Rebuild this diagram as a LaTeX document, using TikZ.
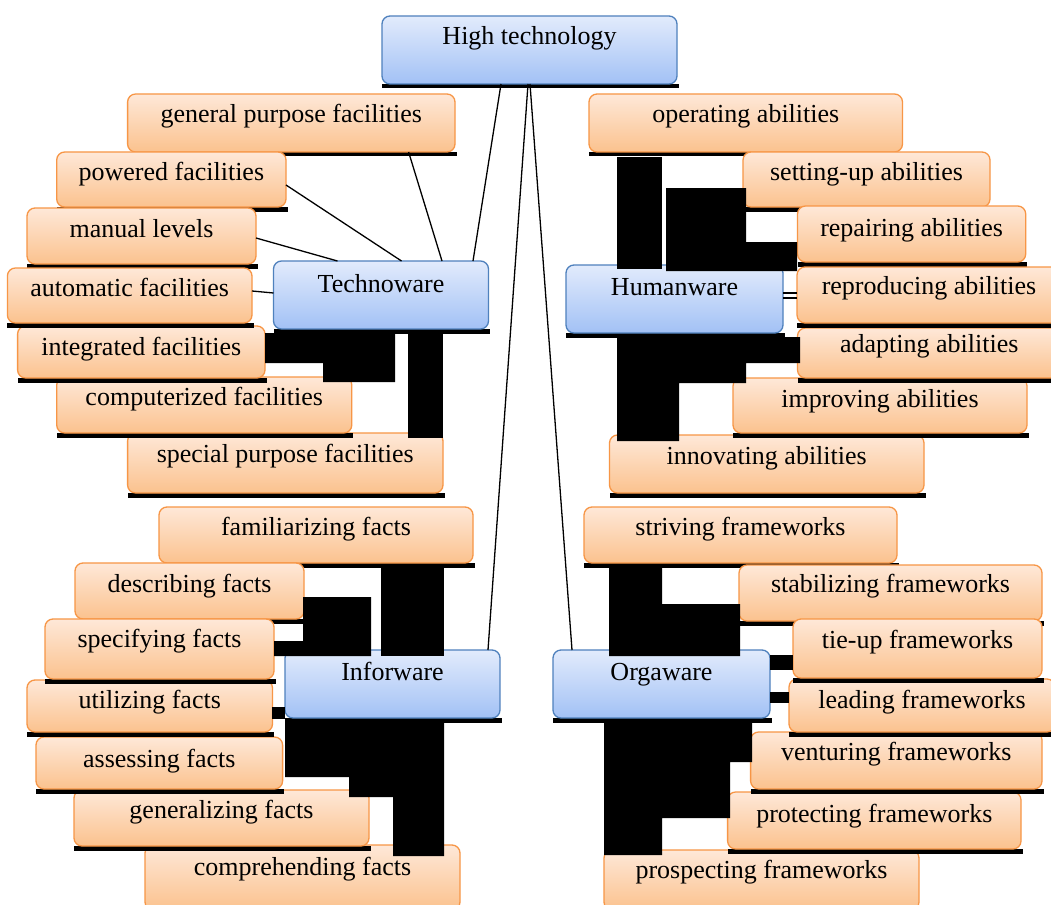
\documentclass[tikz,border=0pt]{standalone}
\usepackage{fontspec}
\setmainfont{Liberation Serif}
\usetikzlibrary{calc}
\pgfdeclarelayer{fg}
\pgfsetlayers{main,fg}
\definecolor{obord}{HTML}{F79646}
\definecolor{otop}{HTML}{FEE8D8}
\definecolor{obot}{HTML}{FBC28E}
\definecolor{bbord}{HTML}{4F81BD}
\definecolor{btop}{HTML}{E2EBFC}
\definecolor{bbot}{HTML}{A2C1F5}
\tikzset{
  boxo/.style={draw=obord, line width=1.3pt, rounded corners=8pt, top color=otop, bottom color=obot,
    font=\fontsize{26}{30}\selectfont, text height=18pt, inner sep=1pt, outer sep=0pt},
  boxb/.style={boxo, draw=bbord, top color=btop, bottom color=bbot},
  link/.style={draw=black, line width=1.3pt},
  blob/.style={fill=black},
  bar/.style={fill=black}
}
% style, name, x1, y1, x2, y2, baseline y, text
\newcommand\bx[8]{%
  \pgfmathsetmacro\myBW{#5-#3}%
  \pgfmathsetmacro\myBH{#6-#4}%
  \pgfmathsetmacro\myBD{(#6-#4)-2*(#7-#4)+18}%
  \pgfmathsetmacro\myCX{(#3+#5)/2}%
  \pgfmathsetmacro\myCY{(#4+#6)/2}%
  \fill[bar] (#3,#6) rectangle ({#5+1.5},{#6+4.5});
  \node[#1, minimum width=\myBW pt, minimum height=\myBH pt, text depth=\myBD pt] (#2) at (\myCX,\myCY) {#8};
}
\begin{document}
\begin{tikzpicture}[x=1pt,y=-1pt]
\useasboundingbox (0,0) rectangle (1051,904);
\clip (0,0) rectangle (1051,904);
\fill[white] (0,0) rectangle (1051,904);

\bx{boxb}{ht}{382}{16}{677}{84}{45}{High technology}

% Technoware group
\bx{boxo}{gpf}{127.6}{94}{455}{152}{123}{general purpose facilities}
\bx{boxo}{pwf}{56.7}{152}{286}{207}{181}{powered facilities}
\bx{boxo}{mnl}{27}{208}{256}{264}{237}{manual levels}
\bx{boxo}{spf}{127.6}{433}{443}{493}{462}{special purpose facilities}
\bx{boxo}{cpf}{56.7}{377}{351.8}{433}{405}{computerized facilities}
\bx{boxo}{itf}{17.6}{326}{265}{378}{355}{integrated facilities}
\bx{boxo}{atf}{7.4}{268}{252}{323}{296}{automatic facilities}
\bx{boxb}{tw}{273.5}{261}{488.5}{329}{292}{Technoware}

% Humanware group
\bx{boxo}{opa}{589}{94}{902.5}{152}{123}{operating abilities}
\bx{boxo}{sua}{743}{152}{990}{207}{181}{setting-up abilities}
\bx{boxo}{rpa}{797.5}{206}{1025.7}{262}{236}{repairing abilities}
\bx{boxo}{ina}{609.5}{435}{924}{493}{464}{innovating abilities}
\bx{boxo}{ima}{733}{378}{1027}{433}{407}{improving abilities}
\bx{boxo}{ada}{797.5}{328}{1061}{378}{352}{adapting abilities}
\bx{boxo}{rra}{797}{267}{1061}{323}{294}{reproducing abilities}
\bx{boxb}{hw}{566}{265}{783}{333}{295}{Humanware}

% Inforware group
\bx{boxo}{faf}{159}{507}{473}{563}{535}{familiarizing facts}
\bx{boxo}{def}{75}{563}{304}{619}{592}{describing facts}
\bx{boxo}{cof}{145}{845}{460}{910}{875}{comprehending facts}
\bx{boxo}{gef}{74}{790}{369}{846}{818}{generalizing facts}
\bx{boxo}{asf}{36}{737}{282.6}{789}{767}{assessing facts}
\bx{boxo}{utf}{27}{680}{272.5}{732}{708}{utilizing facts}
\bx{boxo}{spc}{45}{619}{274}{679}{647}{specifying facts}
\bx{boxb}{iw}{285}{650}{500}{718}{680}{Inforware}

% Orgaware group
\bx{boxo}{stf}{584}{507}{897}{563}{535}{striving frameworks}
\bx{boxo}{sbf}{739}{565}{1042}{621}{592}{stabilizing frameworks}
\bx{boxo}{psf}{604}{850}{919}{910}{878}{prospecting frameworks}
\bx{boxo}{prf}{727.6}{792}{1021}{849}{822}{protecting frameworks}
\bx{boxo}{vef}{750.6}{732}{1042}{789}{760}{venturing frameworks}
\bx{boxo}{lef}{789}{679}{1055}{732}{708}{leading frameworks}
\bx{boxo}{tuf}{793}{619}{1042}{678}{648}{tie-up frameworks}
\bx{boxb}{ow}{553}{650}{770}{718}{680}{Orgaware}

% straight connectors
\draw[link] ([xshift=119pt]ht.south west) -- ([xshift=199.5pt]tw.north west);
\draw[link] ([xshift=146pt]ht.south west) -- ([xshift=203pt]iw.north west);
\draw[link] ([xshift=148pt]ht.south west) -- ([xshift=19pt]ow.north west);
\draw[link] ([xshift=281pt]gpf.south west) -- ([xshift=168.5pt]tw.north west);
\draw[link] ([yshift=-5.5pt]pwf.east) -- ([xshift=128pt]tw.north west);
\draw[link] ([yshift=-2pt]mnl.east) -- ([xshift=64pt]tw.north west);
\draw[link] ([yshift=4.5pt]atf.east) -- ([yshift=2pt]tw.west);
\draw[link] ([yshift=6pt]hw.east) -- ([yshift=2pt]rra.west);
\draw[link] ([yshift=1pt]hw.east) -- ([yshift=-3pt]rra.west);

% filled connector blocks
\begin{pgfonlayer}{fg}
\fill[blob] (265,333) -- (395,333) -- (395,382) -- (323,382) -- (323,363) -- (265,363) -- cycle;
\fill[blob] (408,333) rectangle (443,438);
\fill[blob] (617,157) rectangle (662,269);
\fill[blob] (666,188) -- (746,188) -- (746,242) -- (797,242) -- (797,271) -- (666,271) -- cycle;
\fill[blob] (617,337) -- (800,337) -- (800,363) -- (746,363) -- (746,383) -- (679,383) -- (679,441) -- (617,441) -- cycle;
\fill[blob] (303,597) -- (371,597) -- (371,656) -- (274,656) -- (274,641) -- (303,641) -- cycle;
\fill[blob] (381,567) rectangle (444,656);
\fill[blob] (285,720) -- (444,720) -- (444,856) -- (393,856) -- (393,797) -- (349,797) -- (349,777) -- (285,777) -- cycle;
\fill[blob] (272,707) rectangle (285,719);
\fill[blob] (609,567) -- (662,567) -- (662,604) -- (740,604) -- (740,656) -- (609,656) -- cycle;
\fill[blob] (604,720) -- (752,720) -- (752,762) -- (730,762) -- (730,818) -- (662,818) -- (662,855) -- (604,855) -- cycle;
\fill[blob] (770,655) rectangle (793,670);
\fill[blob] (770,692) rectangle (789,703);
\end{pgfonlayer}
\end{tikzpicture}
\end{document}
